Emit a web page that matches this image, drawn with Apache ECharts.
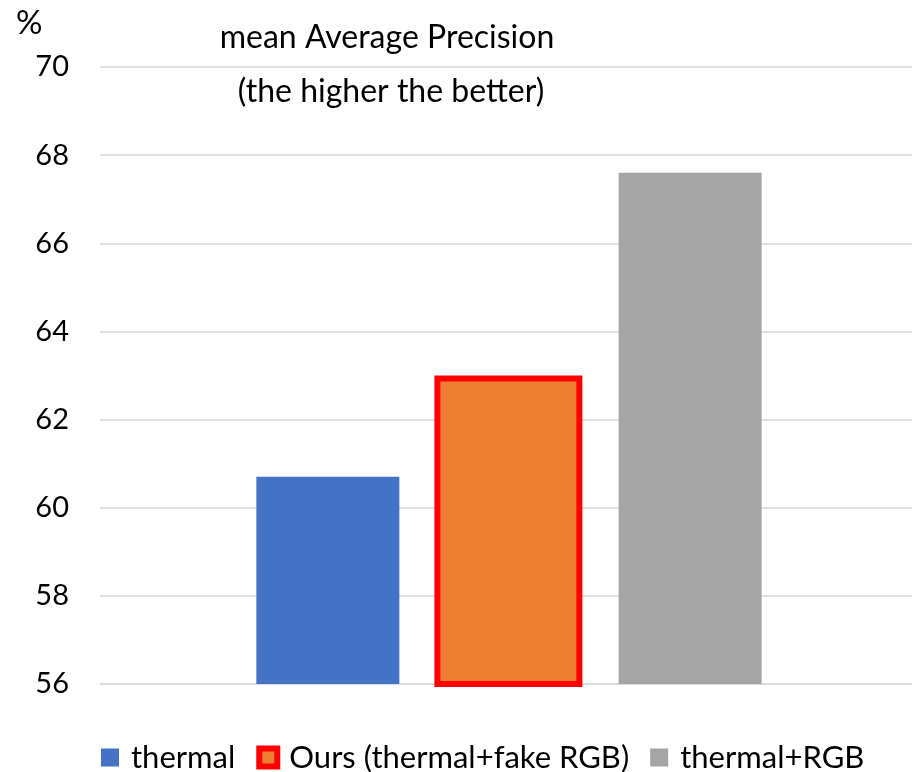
<!DOCTYPE html>
<html><head><meta charset="utf-8">
<script src="https://cdn.jsdelivr.net/npm/echarts@6/dist/echarts.min.js"></script>
<style>html,body{margin:0;padding:0;background:#fff}#c{width:912px;height:772px}</style>
</head><body><div id="c"></div>
<script>
const categories = [''];
const seriesNames = ['thermal', 'Ours (thermal+fake RGB)', 'thermal+RGB'];
const seriesValues = [60.7, 63.0, 67.6];
const yTicks = [56, 58, 60, 62, 64, 66, 68, 70];

const colors = ['#4472c4', '#ed7d31', '#a5a5a5'];
const FONT = 'Lato';
const chart = echarts.init(document.getElementById('c'));
const series = seriesNames.map((n, i) => ({
  name: n,
  type: 'bar',
  data: [seriesValues[i]],
  barWidth: i === 1 ? 148 : 143,
  barGap: '24.5%',
  itemStyle: i === 1 ? {color: colors[i], borderColor: '#ff0000', borderWidth: 6} : {color: colors[i]}
}));
chart.setOption({
  animation: false,
  backgroundColor: '#fff',
  title: [
    {text: 'mean Average Precision', left: 382, top: 17, textAlign: 'center',
     textStyle: {fontFamily: FONT, fontSize: 32, fontWeight: 'normal', color: '#000'}},
    {text: '(the higher the better)', left: 386, top: 71, textAlign: 'center',
     textStyle: {fontFamily: FONT, fontSize: 32, fontWeight: 'normal', color: '#000'}},
    {text: '%', left: 11, top: 2,
     textStyle: {fontFamily: FONT, fontSize: 33, fontWeight: 'normal', color: '#000'}}
  ],
  legend: {
    top: 737, left: 96,
    itemWidth: 18, itemHeight: 18, itemGap: 21,
    icon: 'rect',
    textStyle: {fontFamily: FONT, fontSize: 31, color: '#000', padding: [0, 0, 0, 7]},
    data: [
      {name: seriesNames[0]},
      {name: seriesNames[1], itemStyle: {borderWidth: 6, borderColor: '#ff0000'}},
      {name: seriesNames[2]}
    ]
  },
  grid: {left: 100, width: 818, top: 67, bottom: 88, containLabel: false, outerBoundsMode: 'none'},
  xAxis: {
    type: 'category', data: categories,
    axisLine: {lineStyle: {color: '#d9d9d9', width: 1.5}},
    axisTick: {show: false}, axisLabel: {show: false}
  },
  yAxis: {
    type: 'value', min: yTicks[0], max: yTicks[yTicks.length - 1], interval: 2,
    axisLine: {show: false}, axisTick: {show: false},
    axisLabel: {fontFamily: FONT, fontSize: 29, color: '#000', margin: 31},
    splitLine: {lineStyle: {color: '#d9d9d9', width: 1.5}}
  },
  series: series
});
</script></body></html>
